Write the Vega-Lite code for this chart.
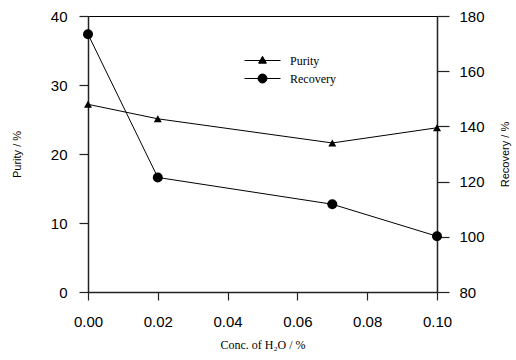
{
  "$schema": "https://vega.github.io/schema/vega-lite/v6.json",
  "autosize": "none",
  "width": 349,
  "height": 276,
  "padding": {"left": 88, "top": 16, "right": 79, "bottom": 68},
  "background": "white",
  "config": {
    "view": {"stroke": "black", "strokeWidth": 1},
    "axis": {
      "grid": false,
      "labelFlush": false,
      "domainColor": "#222",
      "domainWidth": 1.5,
      "tickColor": "#222",
      "tickWidth": 1.2,
      "labelFont": "Liberation Sans",
      "labelFontSize": 15,
      "labelColor": "black",
      "titleColor": "black",
      "titleFontWeight": "normal"
    }
  },
  "data": {
    "values": [
      {"conc": 0.00, "series": "Purity", "value": 27.2},
      {"conc": 0.02, "series": "Purity", "value": 25.1},
      {"conc": 0.07, "series": "Purity", "value": 21.6},
      {"conc": 0.10, "series": "Purity", "value": 23.8},
      {"conc": 0.00, "series": "Recovery", "value": 173.4},
      {"conc": 0.02, "series": "Recovery", "value": 121.5},
      {"conc": 0.07, "series": "Recovery", "value": 111.8},
      {"conc": 0.10, "series": "Recovery", "value": 100.2}
    ]
  },
  "encoding": {
    "x": {
      "field": "conc",
      "type": "quantitative",
      "scale": {"domain": [0, 0.1], "nice": false, "zero": false},
      "axis": {
        "values": [0, 0.02, 0.04, 0.06, 0.08, 0.1],
        "format": ".2f",
        "tickSize": 8,
        "labelPadding": 14,
        "title": "Conc. of H₂O / %",
        "titleFont": "Liberation Serif",
        "titleFontSize": 12,
        "titlePadding": 10
      }
    }
  },
  "layer": [
    {
      "transform": [{"filter": "datum.series === 'Purity'"}],
      "encoding": {
        "y": {
          "field": "value",
          "type": "quantitative",
          "scale": {"domain": [0, 40], "nice": false},
          "axis": {
            "orient": "left",
            "values": [0, 10, 20, 30, 40],
            "tickSize": 9,
            "labelPadding": 12,
            "title": "Purity / %",
            "titleFont": "Liberation Sans",
            "titleFontSize": 11,
            "titlePadding": 28
          }
        }
      },
      "layer": [
        {
          "mark": {"type": "line", "strokeWidth": 1},
          "encoding": {
            "color": {
              "field": "series",
              "type": "nominal",
              "scale": {"domain": ["Purity", "Recovery"], "range": ["black", "black"]},
              "legend": {
                "title": null,
                "orient": "none",
                "legendX": 168,
                "legendY": 38,
                "padding": 0,
                "symbolSize": 144,
                "labelOffset": 21,
                "rowPadding": 5,
                "labelFont": "Liberation Serif",
                "labelFontSize": 12,
                "labelColor": "black",
                "encode": {
                  "symbols": {
                    "update": {
                      "shape": {"signal": "datum.value === 'Purity' ? 'M-3,0H3M0,-0.7L0.65,0.45L-0.65,0.45Z' : 'M-3,0H3M0.75,0A0.75,0.75,0,1,1,-0.75,0A0.75,0.75,0,1,1,0.75,0Z'"},
                      "fill": {"value": "black"},
                      "stroke": {"value": "black"},
                      "strokeWidth": {"value": 1},
                      "opacity": {"value": 1}
                    }
                  }
                }
              }
            }
          }
        },
        {
          "mark": {"type": "point", "shape": "triangle-up", "filled": true, "color": "black", "opacity": 1, "size": 64}
        }
      ]
    },
    {
      "transform": [{"filter": "datum.series === 'Recovery'"}],
      "encoding": {
        "y": {
          "field": "value",
          "type": "quantitative",
          "scale": {"domain": [80, 180], "nice": false, "zero": false},
          "axis": {
            "orient": "right",
            "values": [80, 100, 120, 140, 160, 180],
            "tickSize": 12,
            "labelPadding": 10,
            "title": "Recovery / %",
            "titleAngle": -90,
            "titleFont": "Liberation Sans",
            "titleFontSize": 11,
            "titlePadding": 26
          }
        }
      },
      "layer": [
        {
          "mark": {"type": "line", "strokeWidth": 1},
          "encoding": {"color": {"field": "series", "type": "nominal", "legend": null}}
        },
        {
          "mark": {"type": "point", "shape": "circle", "filled": true, "color": "black", "opacity": 1, "size": 100}
        }
      ]
    }
  ],
  "resolve": {"scale": {"y": "independent"}, "axis": {"y": "independent"}}
}
